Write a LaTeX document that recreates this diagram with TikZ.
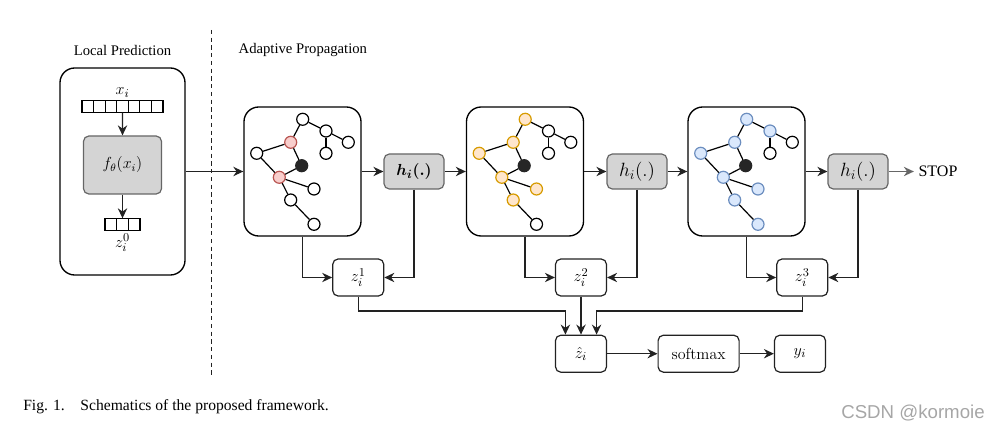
\documentclass[tikz,border=0pt]{standalone}
\usepackage[no-math]{fontspec}
\setmainfont{Liberation Serif}
\newfontfamily\markfont{Liberation Sans}
\usepackage{amsmath}
\usetikzlibrary{positioning,arrows.meta}

\definecolor{linegray}{HTML}{222222}
\definecolor{boxgray}{HTML}{D4D4D4}
\definecolor{boxline}{HTML}{666666}
\definecolor{redfill}{HTML}{F8CECC}
\definecolor{redline}{HTML}{B85450}
\definecolor{orangefill}{HTML}{FFE6CC}
\definecolor{orangeline}{HTML}{D79B00}
\definecolor{bluefill}{HTML}{DAE8FC}
\definecolor{blueline}{HTML}{6C8EBF}

\tikzset{
  conn/.style={draw=linegray, line width=1pt, -{Stealth[length=7.5pt,width=7pt]}},
  edge/.style={draw=black, line width=0.9pt},
  title/.style={font=\fontsize{11}{13}\selectfont},
  vlabel/.style={font=\fontsize{13}{15}\selectfont, inner sep=2pt},
  outer/.style={draw=black, line width=1pt, rounded corners=11pt, minimum width=93.75pt, minimum height=155.25pt},
  panel/.style={draw=black, line width=1pt, rounded corners=11pt, minimum width=87.75pt, minimum height=96.75pt},
  hbox/.style={draw=boxline, fill=boxgray, line width=0.9pt, rounded corners=4pt, minimum width=45pt, minimum height=26.25pt, font=\Large},
  fbox/.style={hbox, minimum width=58.5pt, minimum height=43.5pt, font=\fontsize{11.5}{14}\selectfont},
  zbox/.style={draw=linegray, line width=0.9pt, rounded corners=4pt, minimum width=38.25pt, minimum height=27.75pt, font=\fontsize{12.5}{15}\selectfont},
  cell/.style={draw=black, line width=0.8pt, minimum width=8.7pt, minimum height=8.5pt, inner sep=0pt},
  dot/.style={circle, minimum size=9pt, inner sep=0pt, line width=0.9pt},
  s0/.style={fill=black!85, draw=black!85},
  s1/.style={fill=redfill, draw=redline},
  s2/.style={fill=orangefill, draw=orangeline},
  s3/.style={fill=bluefill, draw=blueline},
  s4/.style={fill=white, draw=black},
}

\begin{document}
\begin{tikzpicture}[x=0.75pt, y=-0.75pt]
\useasboundingbox (0,0) rectangle (997,431);

\node[title] (lptitle) at (122.5,50) {Local Prediction};
\node[title, anchor=west] (aptitle) at (234,50) {Adaptive Propagation};
\draw[linegray, line width=0.7pt, dash pattern=on 3.2pt off 2.6pt] (211,30) -- (211,377);

% local prediction
\node[outer] (lp) at (122.5,171.5) {};
\foreach \c in {1,...,7}
  \node[cell] (xv\c) at ({76.22+11.57*\c},106.5) {};
\node[vlabel, above=0pt of xv4] (xlab) {$x_i$};
\node[fbox] (f) at (122.5,165) {$f_\theta(x_i)$};
\foreach \c in {1,2,3}
  \node[cell] (zv\c) at ({99.16+11.67*\c},224.5) {};
\node[vlabel, below=0pt of zv2] (zlab) {$z_i^0$};
\draw[conn] (xv4.south) -- (f.north);
\draw[conn] (f.south) -- (zv2.north);

% adaptive propagation
\foreach \k/\gx/\hx/\hl in {1/302.5/414/{\fontsize{13}{15}\selectfont$\boldsymbol{h_i(.)}$}, 2/525/637/{$h_i(.)$}, 3/746.5/858/{$h_i(.)$}}{
  \node[panel] (g\k) at (\gx,171.5) {};
  \node[hbox] (h\k) at (\hx,171.5) {\hl};
  \pgfmathsetmacro\zx{(\gx+\hx)/2}
  \node[zbox] (z\k) at (\zx,277.5) {$z_i^{\k}$};
  \begin{scope}[shift={(\gx,171.5)}]
    \foreach \n/\px/\py/\f in {a/0.2/-52.2/2, b/23.5/-40.5/3, c/45.8/-29.2/4, d/23.5/-18.2/4,
        e/-11.8/-29.2/1, f/-45.8/-18.2/2, g/-0.8/-5.8/0, h/-23.2/5.8/1,
        i/11.5/17.5/2, j/-11.8/28.5/2, k/11.5/52.8/3}{
      \pgfmathtruncatemacro\sty{\f==0 ? 0 : (\k<\f ? 4 : \k)}
      \node[dot, s\sty] (g\k\n) at (\px,\py) {};
    }
    \foreach \u/\v in {a/b, b/c, b/d, a/e, e/f, e/g, f/h, h/g, h/i, h/j, j/k}
      \draw[edge] (g\k\u) -- (g\k\v);
  \end{scope}
  \draw[conn] (g\k) -- (h\k);
  \draw[conn] (g\k.south) |- (z\k);
  \draw[conn] (h\k.south) |- (z\k);
}
\node (stop) at (938,171.5) {\fontsize{12}{14}\selectfont STOP};
\draw[conn] (lp) -- (g1);
\draw[conn] (h1) -- (g2);
\draw[conn] (h2) -- (g3);
\draw[conn, draw=boxline] (h3) -- (stop);

% readout
\node[zbox] (hz) at (581,353.7) {$\hat{z}_i$};
\node[zbox, minimum width=60.75pt] (sm) at (698.6,353.7) {$\mathrm{softmax}$};
\node[zbox] (y) at (800,353.7) {$y_i$};
\draw[conn] (z1.south) -- ++(0,14.4) -| ([xshift=-11.7pt]hz.north);
\draw[conn] (z2) -- (hz);
\draw[conn] (z3.south) -- ++(0,14.4) -| ([xshift=11.7pt]hz.north);
\draw[conn] (hz) -- (sm);
\draw[conn] (sm) -- (y);

\node[anchor=west, inner sep=0pt] (cap) at (23,407) {\fontsize{11.7}{14}\selectfont Fig. 1.\quad Schematics of the proposed framework.};
\node[anchor=east, inner sep=0pt, text=black!35] (mark) at (985,413) {\markfont\fontsize{14}{16}\selectfont CSDN @kormoie};
\end{tikzpicture}
\end{document}
